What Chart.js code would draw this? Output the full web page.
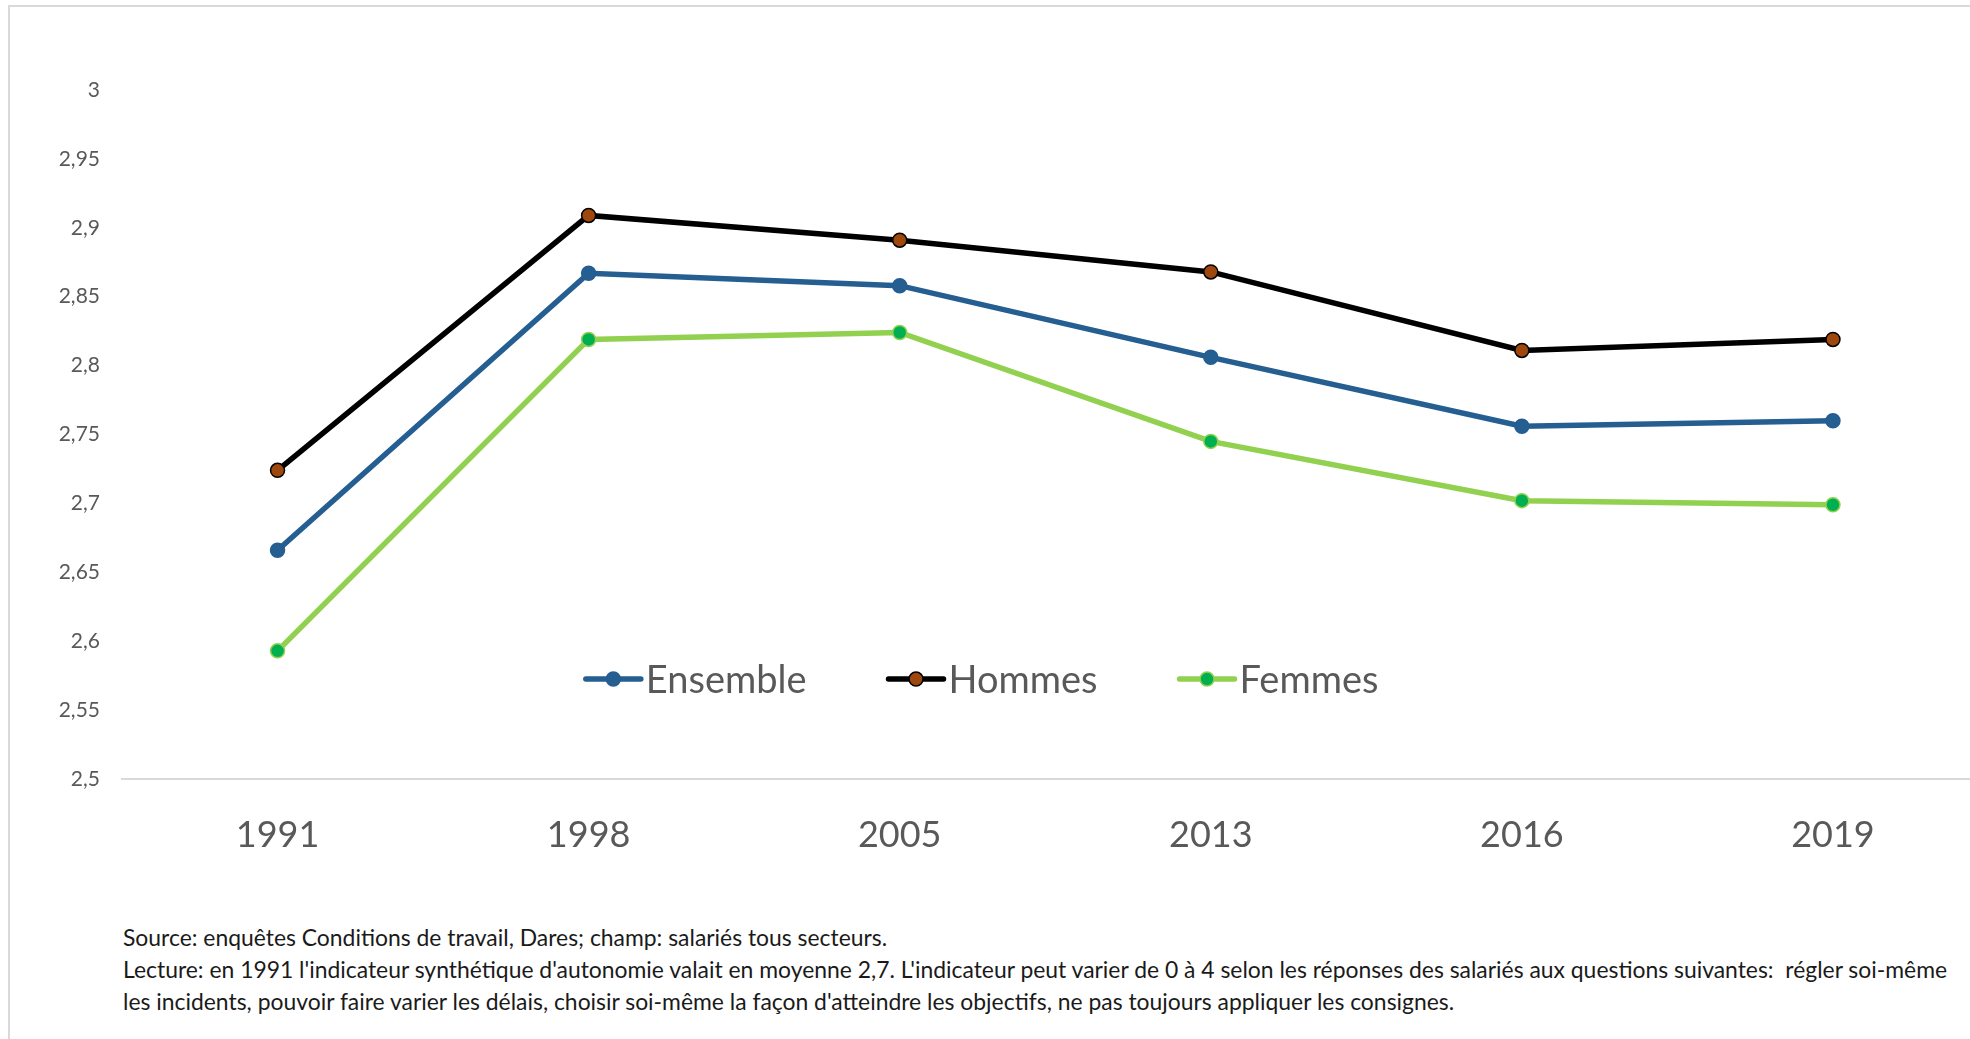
<!DOCTYPE html>
<html lang="fr">
<head>
    <meta charset="UTF-8">
    <meta name="viewport" content="width=device-width, initial-scale=1.0">
    <title>Indicateur synthétique d'autonomie</title>
    <script src="https://cdn.jsdelivr.net/npm/chart.js"></script>
    <style>
        body { margin: 0; width: 1970px; height: 1039px; overflow: hidden; background: #fff; position: relative; font-family: Lato, sans-serif; }
        #frame { position: absolute; left: 8px; top: 5px; right: -20px; bottom: -20px; border-left: 2px solid #d9d9d9; border-top: 2px solid #d9d9d9; }
        #wrap { position: absolute; left: 0; top: 0; width: 1997px; height: 860px; }
        #note { position: absolute; left: 123px; top: 921px; font-size: 22.9px; line-height: 32px; color: #1a1a1a; white-space: nowrap; }
    </style>
</head>
<body>
    <div id="frame"></div>
    <div id="wrap">
        <canvas id="myChart"></canvas>
    </div>
    <div id="note">
        Source: enquêtes Conditions de travail, Dares; champ: salariés tous secteurs.<br>
        Lecture: en 1991 l'indicateur synthétique d'autonomie valait en moyenne 2,7. L'indicateur peut varier de 0 à 4 selon les réponses des salariés aux questions suivantes:&nbsp; régler soi-même<br>
        les incidents, pouvoir faire varier les délais, choisir soi-même la façon d'atteindre les objectifs, ne pas toujours appliquer les consignes.
    </div>

    <script>
        const years = ['1991', '1998', '2005', '2013', '2016', '2019'];
        const ensemble = [2.666, 2.867, 2.858, 2.806, 2.756, 2.760];
        const hommes = [2.724, 2.909, 2.891, 2.868, 2.811, 2.819];
        const femmes = [2.593, 2.819, 2.824, 2.745, 2.702, 2.699];
        const yMin = 2.5, yMax = 3, yStep = 0.05;

        // legend drawn inside the plot, like the original
        const insideLegend = {
            id: 'insideLegend',
            afterDatasetsDraw(chart) {
                const { ctx, chartArea } = chart;
                const y = chartArea.bottom - 0.145 * (chartArea.bottom - chartArea.top);
                let x = chartArea.left + 0.2485 * (chartArea.right - chartArea.left);
                ctx.save();
                ctx.font = '38px Lato';
                ctx.textBaseline = 'middle';
                chart.data.datasets.forEach(ds => {
                    ctx.strokeStyle = ds.borderColor;
                    ctx.lineWidth = ds.borderWidth;
                    ctx.lineCap = 'round';
                    ctx.beginPath();
                    ctx.moveTo(x, y);
                    ctx.lineTo(x + 55, y);
                    ctx.stroke();
                    ctx.beginPath();
                    ctx.arc(x + 27.5, y, ds.pointRadius, 0, Math.PI * 2);
                    ctx.fillStyle = ds.pointBackgroundColor;
                    ctx.fill();
                    ctx.lineWidth = ds.pointBorderWidth;
                    ctx.strokeStyle = ds.pointBorderColor;
                    ctx.stroke();
                    ctx.fillStyle = '#595959';
                    ctx.fillText(ds.label, x + 60, y + 2);
                    x += 60 + ctx.measureText(ds.label).width + 82;
                });
                ctx.restore();
            }
        };

        function series(label, data, line, fill, border) {
            return {
                label: label,
                data: data,
                borderColor: line,
                borderWidth: 5.5,
                pointRadius: 7,
                pointHoverRadius: 7,
                pointBackgroundColor: fill,
                pointBorderColor: border,
                pointBorderWidth: 1.5,
                tension: 0,
                fill: false
            };
        }

        const ctx = document.getElementById('myChart').getContext('2d');
        new Chart(ctx, {
            type: 'line',
            data: {
                labels: years,
                datasets: [
                    series('Ensemble', ensemble, '#255e91', '#255e91', '#255e91'),
                    series('Hommes', hommes, '#000000', '#9e480e', '#000000'),
                    series('Femmes', femmes, '#92d050', '#00b050', '#92d050')
                ]
            },
            options: {
                responsive: true,
                maintainAspectRatio: false,
                animation: false,
                layout: { padding: { top: 90, left: 0, right: 2, bottom: 0 } },
                plugins: {
                    legend: { display: false },
                    tooltip: { enabled: false }
                },
                scales: {
                    x: {
                        offset: true,
                        grid: { display: false, drawTicks: false },
                        border: { display: true, color: '#d9d9d9', width: 2 },
                        ticks: { color: '#595959', font: { family: 'Lato', size: 36 }, padding: 35 },
                        afterFit: s => { s.height = 81; }
                    },
                    y: {
                        min: yMin,
                        max: yMax,
                        grid: { display: false, drawTicks: false },
                        border: { display: false },
                        ticks: {
                            stepSize: yStep,
                            color: '#595959',
                            font: { family: 'Lato', size: 21 },
                            padding: 22,
                            callback: v => Number(v.toFixed(2)).toString().replace('.', ',')
                        },
                        afterFit: s => { s.width = 122; }
                    }
                }
            },
            plugins: [insideLegend]
        });
    </script>
</body>
</html>
